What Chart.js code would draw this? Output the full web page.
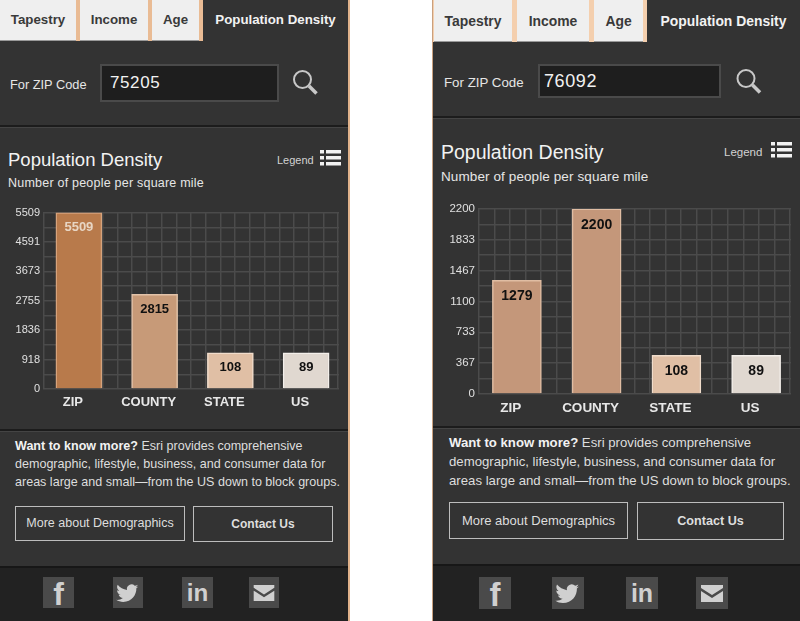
<!DOCTYPE html>
<html>
<head>
<meta charset="utf-8">
<title>Population Density</title>
<script src="https://cdn.jsdelivr.net/npm/chart.js@4"></script>
<style>
    html, body { margin: 0; padding: 0; background: #fff; }
    body { width: 800px; height: 621px; position: relative; overflow: hidden; font-family: "Liberation Sans", Arial, sans-serif; color: #e6e6e6; }
    .panel { position: absolute; top: 0; height: 621px; background: #333; overflow: hidden; }
    .abs { position: absolute; white-space: nowrap; }
    .tabbar { position: absolute; left: 0; top: 0; right: 0; background: #e9bb94; }
    .tab { position: absolute; top: 0; background: #efefef; color: #3a3a3a; font-weight: bold; text-align: center; border-bottom: 1px solid #999; box-sizing: border-box; }
    .active { position: absolute; top: 0; background: #333; color: #f2f2f2; font-weight: bold; text-align: center; }
    .zip { position: absolute; background: #1e1e1e; border: 2px solid #4a4a4a; box-sizing: border-box; color: #f2f2f2; font-size: 17px; letter-spacing: 0.6px; }
    .rule { position: absolute; left: 0; right: 0; height: 2px; background: #1c1c1c; border-bottom: 1px solid #444; }
    .btn { position: absolute; border: 1px solid #bdbdbd; box-sizing: border-box; text-align: center; color: #dedede; }
    .footer { position: absolute; left: 0; right: 0; bottom: 0; background: #222; border-top: 2px solid #171717; }
    .social { position: absolute; background: #4a4a4a; }
    .social svg { display: block; width: 100%; height: 100%; }
    canvas { position: absolute; }
</style>
</head>
<body>

<div class="abs" style="left:348px;top:0;width:2px;height:621px;background:#e0b28b"></div>
<div class="abs" style="left:432px;top:0;width:1px;height:621px;background:#c9a07e"></div>

<!-- left panel -->
<div class="panel" style="left:0;width:348px">
    <div class="tabbar" style="height:41px"></div>
    <div class="tab" style="left:0;width:76px;height:41px;line-height:39px;font-size:13.3px">Tapestry</div>
    <div class="tab" style="left:80px;width:68px;height:41px;line-height:39px;font-size:13.3px">Income</div>
    <div class="tab" style="left:152px;width:47px;height:41px;line-height:39px;font-size:13.3px">Age</div>
    <div class="active" style="left:203px;width:145px;height:41px;line-height:39px;font-size:13.3px">Population Density</div>

    <div class="abs" style="left:10px;top:77px;font-size:12.8px">For ZIP Code</div>
    <div class="zip" style="left:100px;top:64px;width:179px;height:38px;line-height:34px;padding-left:8px">75205</div>
    <svg class="abs" style="left:292px;top:69px" width="26" height="26" viewBox="0 0 26 26"><circle cx="10.5" cy="10.5" r="8.5" fill="none" stroke="#c8c8c8" stroke-width="2"/><line x1="17" y1="17" x2="24.5" y2="24.5" stroke="#c8c8c8" stroke-width="3.5"/></svg>

    <div class="rule" style="top:125px"></div>

    <div class="abs" style="left:8px;top:149px;font-size:18.5px;color:#f2f2f2">Population Density</div>
    <div class="abs" style="left:8px;top:176px;font-size:12.5px;letter-spacing:0.22px">Number of people per square mile</div>
    <div class="abs" style="left:277px;top:154px;font-size:11px;color:#d2d2d2">Legend</div>
    <svg class="abs" style="left:320px;top:150px" width="21" height="16"><g fill="#f2f2f2"><rect y="0" width="4" height="3.5"/><rect x="6" y="0" width="15" height="3.5"/><rect y="6" width="4" height="3.5"/><rect x="6" y="6" width="15" height="3.5"/><rect y="12" width="4" height="3.5"/><rect x="6" y="12" width="15" height="3.5"/></g></svg>

    <canvas id="chartLeft" style="left:0;top:205px"></canvas>

    <div class="rule" style="top:429px"></div>
    <div class="abs" style="left:15px;top:437px;font-size:12.55px;line-height:18px;color:#dedede"><b style="color:#f2f2f2">Want to know more?</b> Esri provides comprehensive<br>demographic, lifestyle, business, and consumer data for<br>areas large and small—from the US down to block groups.</div>
    <div class="btn" style="left:15px;top:506px;width:170px;height:35px;line-height:33px;font-size:12.5px">More about Demographics</div>
    <div class="btn" style="left:193px;top:506px;width:140px;height:36px;line-height:34px;font-size:12px;font-weight:bold">Contact Us</div>

    <div class="footer" style="top:566px"></div>
    <div class="social" style="left:43px;top:577px;width:31px;height:31px"><svg viewBox="0 0 32 32"><text x="16" y="29" text-anchor="middle" font-family="Liberation Sans" font-weight="bold" font-size="33" fill="#d0d0d0">f</text></svg></div>
    <div class="social" style="left:113px;top:577px;width:30px;height:31px"><svg viewBox="0 0 32 32"><path fill="#d0d0d0" d="M27 9.5c-.9.4-1.8.7-2.8.8 1-.6 1.8-1.6 2.1-2.7-.9.6-2 1-3.100 1.200a4.900 4.900 0 0 0-8.300 4.400C11 12.500 7.400 10.600 5 7.600c-1.300 2.200-.6 5 1.500 6.500-.8 0-1.500-.2-2.200-.6 0 2.300 1.600 4.300 3.900 4.800-.7.200-1.500.2-2.200.1.600 1.900 2.400 3.300 4.600 3.400A9.900 9.900 0 0 1 3.400 23.800c2.200 1.400 4.800 2.200 7.500 2.200 9.100 0 14.300-7.700 14-14.600 1-.7 1.800-1.500 2.100-1.900z"/></svg></div>
    <div class="social" style="left:182px;top:577px;width:31px;height:31px"><svg viewBox="0 0 32 32"><text x="16" y="25" text-anchor="middle" font-family="Liberation Sans" font-weight="bold" font-size="25" fill="#d0d0d0">in</text></svg></div>
    <div class="social" style="left:249px;top:577px;width:30px;height:31px"><svg viewBox="0 0 32 32"><path fill="#d0d0d0" d="M5 8h22v3L16 18 5 11zM5 14l11 7 11-7v11H5z"/></svg></div>
</div>

<!-- right panel -->
<div class="panel" style="left:433px;width:367px">
    <div class="tabbar" style="height:42px;background:#f4cfae"></div>
    <div class="tab" style="left:1px;width:78px;height:42px;line-height:42px;font-size:13.9px">Tapestry</div>
    <div class="tab" style="left:84px;width:72px;height:42px;line-height:42px;font-size:13.9px">Income</div>
    <div class="tab" style="left:161px;width:49px;height:42px;line-height:42px;font-size:13.9px">Age</div>
    <div class="active" style="left:214px;width:153px;height:42px;line-height:42px;font-size:13.9px">Population Density</div>

    <div class="abs" style="left:11px;top:75px;font-size:13.3px">For ZIP Code</div>
    <div class="zip" style="left:105px;top:64px;width:183px;height:34px;line-height:30px;padding-left:4px;font-size:18px">76092</div>
    <svg class="abs" style="left:302px;top:68px" width="27" height="26" viewBox="0 0 26 26"><circle cx="10.5" cy="10.5" r="8.5" fill="none" stroke="#c8c8c8" stroke-width="2"/><line x1="17" y1="17" x2="24.5" y2="24.5" stroke="#c8c8c8" stroke-width="3.500"/></svg>

    <div class="rule" style="top:116px"></div>

    <div class="abs" style="left:8px;top:141px;font-size:19.5px;color:#f2f2f2">Population Density</div>
    <div class="abs" style="left:8px;top:169px;font-size:13.5px;letter-spacing:0.1px">Number of people per square mile</div>
    <div class="abs" style="left:291px;top:146px;font-size:11.500px;color:#d2d2d2">Legend</div>
    <svg class="abs" style="left:338px;top:142px" width="21" height="16"><g fill="#f2f2f2"><rect y="0" width="4" height="3.5"/><rect x="6" y="0" width="15" height="3.5"/><rect y="6" width="4" height="3.5"/><rect x="6" y="6" width="15" height="3.5"/><rect y="12" width="4" height="3.5"/><rect x="6" y="12" width="15" height="3.5"/></g></svg>

    <canvas id="chartRight" style="left:0;top:200px"></canvas>

    <div class="rule" style="top:426px"></div>
    <div class="abs" style="left:16px;top:433px;font-size:13.2px;line-height:19px;color:#dedede"><b style="color:#f2f2f2">Want to know more?</b> Esri provides comprehensive<br>demographic, lifestyle, business, and consumer data for<br>areas large and small—from the US down to block groups.</div>
    <div class="btn" style="left:16px;top:502px;width:179px;height:37px;line-height:35px;font-size:13px">More about Demographics</div>
    <div class="btn" style="left:204px;top:502px;width:147px;height:38px;line-height:36px;font-size:12.6px;font-weight:bold">Contact Us</div>

    <div class="footer" style="top:564px"></div>
    <div class="social" style="left:46px;top:577px;width:32px;height:32px"><svg viewBox="0 0 32 32"><text x="16" y="29" text-anchor="middle" font-family="Liberation Sans" font-weight="bold" font-size="33" fill="#d0d0d0">f</text></svg></div>
    <div class="social" style="left:119px;top:577px;width:32px;height:32px"><svg viewBox="0 0 32 32"><path fill="#d0d0d0" d="M27 9.5c-.9.4-1.8.7-2.8.8 1-.6 1.8-1.6 2.1-2.7-.9.6-2 1-3.100 1.200a4.900 4.900 0 0 0-8.300 4.400C11 12.500 7.400 10.600 5 7.600c-1.300 2.200-.6 5 1.500 6.500-.8 0-1.500-.2-2.200-.6 0 2.300 1.600 4.300 3.900 4.800-.7.200-1.500.2-2.200.1.600 1.900 2.400 3.300 4.600 3.400A9.900 9.900 0 0 1 3.400 23.800c2.200 1.400 4.800 2.200 7.500 2.200 9.100 0 14.300-7.700 14-14.600 1-.7 1.800-1.500 2.100-1.900z"/></svg></div>
    <div class="social" style="left:193px;top:577px;width:32px;height:32px"><svg viewBox="0 0 32 32"><text x="16" y="25" text-anchor="middle" font-family="Liberation Sans" font-weight="bold" font-size="25" fill="#d0d0d0">in</text></svg></div>
    <div class="social" style="left:263px;top:577px;width:32px;height:32px"><svg viewBox="0 0 32 32"><path fill="#d0d0d0" d="M5 8h22v3L16 18 5 11zM5 14l11 7 11-7v11H5z"/></svg></div>
</div>

<script>
const categories = ['ZIP', 'COUNTY', 'STATE', 'US'];

// numbers printed on the bars
const leftLabels = [5509, 2815, 108, 89];
const rightLabels = [1279, 2200, 108, 89];

// heights the bars are actually drawn at, the source chart gives small bars a minimum height
const leftHeights = [5509, 2957, 1130, 1130];
const rightHeights = [1350, 2200, 460, 460];

const leftTicks = [0, 918, 1836, 2755, 3673, 4591, 5509];
const rightTicks = [0, 367, 733, 1100, 1467, 1833, 2200];

const leftColors = ['#b87a4b', '#c79a78', '#e0bfa5', '#e0d8d0'];
const rightColors = ['#c4977a', '#c4977a', '#e0bfa5', '#e0d8d0'];
const leftBorders = ['#d6a37c', '#e2c2a8', '#f0dccb', '#f3efea'];
const rightBorders = ['#e0bda3', '#e0bda3', '#f0dccb', '#f3efea'];
const labelColors = ['#e8d6c4', '#111', '#111', '#111'];
const rightLabelColors = ['#111', '#111', '#111', '#111'];

// grid runs 20 columns wide and stops short of the category band on both sides
const gridColumns = Array.from({ length: 21 }, (_, i) => i);

// prints the value near the top of each bar
const barValuePlugin = {
    id: 'barValues',
    afterDatasetsDraw(chart, args, opts) {
        const ctx = chart.ctx;
        ctx.save();
        ctx.font = 'bold ' + opts.size + 'px "Liberation Sans"';
        ctx.textAlign = 'center';
        ctx.textBaseline = 'middle';
        chart.getDatasetMeta(0).data.forEach((bar, i) => {
            ctx.fillStyle = opts.colors[i];
            ctx.fillText(opts.values[i], bar.x, bar.y + opts.drop);
        });
        ctx.restore();
    }
};

// wipes the horizontal grid lines off the strips outside the 20 grid columns
const gridTrimPlugin = {
    id: 'gridTrim',
    beforeDatasetsDraw(chart) {
        const area = chart.chartArea;
        const grid = chart.scales.xGrid;
        const first = grid.getPixelForValue(0);
        const last = grid.getPixelForValue(20);
        chart.ctx.clearRect(area.left - 1, area.top - 2, first - area.left, area.bottom - area.top + 4);
        chart.ctx.clearRect(last + 1, area.top - 2, area.right - last + 1, area.bottom - area.top + 4);
    }
};

function renderChart(config) {
    const canvas = document.getElementById(config.canvasId);
    // horizontal lines also sit half way between the labelled ticks
    const lines = [];
    config.ticks.forEach((t, i) => {
        lines.push(t);
        if (i < config.ticks.length - 1) lines.push((t + config.ticks[i + 1]) / 2);
    });

    return new Chart(canvas.getContext('2d'), {
        type: 'bar',
        data: {
            labels: categories,
            datasets: [{
                data: config.heights,
                backgroundColor: config.colors,
                borderColor: config.borders,
                borderWidth: 1.5,
                barThickness: config.barWidth
            }]
        },
        plugins: [gridTrimPlugin, barValuePlugin],
        options: {
            responsive: false,
            animation: false,
            layout: { padding: config.padding },
            plugins: {
                legend: { display: false },
                tooltip: { enabled: false },
                barValues: { values: config.labels, colors: config.labelColors, size: config.valueSize, drop: config.valueDrop }
            },
            scales: {
                x: {
                    grid: { display: false, drawTicks: false },
                    border: { display: false },
                    afterFit: (scale) => { scale.height = config.xHeight; },
                    ticks: {
                        color: '#e8e8e8',
                        font: { family: 'Liberation Sans', weight: 'bold', size: config.xSize },
                        padding: config.xPadding,
                        labelOffset: config.xOffset,
                        maxRotation: 0
                    }
                },
                xGrid: {
                    type: 'linear',
                    position: 'top',
                    offset: false,
                    min: config.gridMin,
                    max: config.gridMax,
                    afterBuildTicks: (scale) => { scale.ticks = gridColumns.map((v) => ({ value: v })); },
                    afterFit: (scale) => { scale.height = 0; },
                    grid: { color: '#4b4b4b', lineWidth: 1.5, drawTicks: false, offset: false },
                    border: { display: false },
                    ticks: { display: false }
                },
                y: {
                    min: 0,
                    max: config.ticks[config.ticks.length - 1],
                    afterBuildTicks: (scale) => { scale.ticks = lines.map((v) => ({ value: v })); },
                    afterFit: (scale) => { scale.width = config.yWidth; },
                    grid: { color: '#4b4b4b', lineWidth: 1.5, drawTicks: false },
                    border: { display: false },
                    ticks: {
                        color: '#e0e0e0',
                        font: { family: 'Liberation Sans', size: config.ySize },
                        padding: config.yPadding,
                        autoSkip: false,
                        callback: (value) => config.ticks.includes(value) ? value : ''
                    }
                }
            }
        }
    });
}

function sizeCanvas(id, w, h) {
    const c = document.getElementById(id);
    c.width = w;
    c.height = h;
    c.style.width = w + 'px';
    c.style.height = h + 'px';
}

sizeCanvas('chartLeft', 348, 210);
sizeCanvas('chartRight', 367, 222);

renderChart({
    canvasId: 'chartLeft',
    heights: leftHeights,
    labels: leftLabels,
    ticks: leftTicks,
    colors: leftColors,
    borders: leftBorders,
    labelColors: labelColors,
    padding: { top: 7, bottom: 0, left: 0, right: 4 },
    barWidth: 46,
    valueSize: 13,
    valueDrop: 15,
    xHeight: 26,
    xSize: 13,
    xPadding: 6,
    xOffset: -6,
    yWidth: 41,
    ySize: 11,
    yPadding: 1,
    gridMin: -0.2,
    gridMax: 20.4
});

renderChart({
    canvasId: 'chartRight',
    heights: rightHeights,
    labels: rightLabels,
    ticks: rightTicks,
    colors: rightColors,
    borders: rightBorders,
    labelColors: rightLabelColors,
    padding: { top: 7, bottom: 0, left: 0, right: 4 },
    barWidth: 49,
    valueSize: 14,
    valueDrop: 16,
    xHeight: 28,
    xSize: 13.5,
    xPadding: 6,
    xOffset: -6,
    yWidth: 44,
    ySize: 11.5,
    yPadding: 2,
    gridMin: -0.12,
    gridMax: 20.39
});
</script>
</body>
</html>
